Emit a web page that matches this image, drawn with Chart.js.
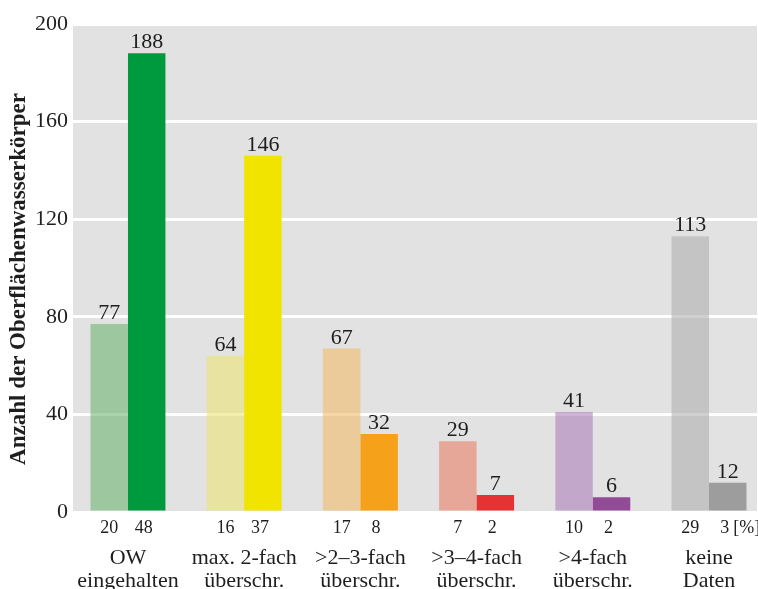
<!DOCTYPE html>
<html>
<head>
<meta charset="utf-8">
<script src="https://cdn.jsdelivr.net/npm/chart.js@4"></script>
<style>
  body { margin: 0; background: #fff; }
</style>
</head>
<body>
<canvas id="owChart" width="758" height="589"></canvas>
<script>
      const categories = [
        ["OW", "eingehalten"],
        ["max. 2-fach", "überschr."],
        [">2–3-fach", "überschr."],
        [">3–4-fach", "überschr."],
        [">4-fach", "überschr."],
        ["keine", "Daten"]
      ];
      // counts per class, light = first series, dark = second series
      const countsLight = [77, 64, 67, 29, 41, 113];
      const countsDark = [188, 146, 32, 7, 6, 12];
      // shares in percent printed under the bars
      const percentLight = [20, 16, 17, 7, 10, 29];
      const percentDark = [48, 37, 8, 2, 2, 3];
      const percentUnit = "[%]";
      const yTicks = [0, 40, 80, 120, 160, 200];
      const yTitle = "Anzahl der Oberflächenwasserkörper";

      const colorsLight = [
        "rgba(111,183,115,0.6)", "rgba(236,228,116,0.6)", "rgba(244,188,106,0.6)",
        "rgba(233,129,103,0.6)", "rgba(174,129,186,0.6)", "rgba(176,176,176,0.6)"
      ];
      const colorsDark = ["#009a3e", "#f0e400", "#f5a11a", "#e53233", "#924c97", "#9d9d9d"];

      const serif = "'Liberation Serif', 'Times New Roman', serif";
      const textColor = "#1e1e1e";

      const toPoints = (arr) => arr.map((v, i) => ({ x: i, y: v }));

      //grey plot background, value labels, percent row and axis title
      const decorations = {
        id: "decorations",
        beforeDraw(chart) {
          const a = chart.chartArea;
          const c = chart.ctx;
          c.save();
          c.fillStyle = "#e2e2e2";
          c.fillRect(a.left, a.top, a.right - a.left, a.bottom - a.top);
          c.restore();
        },
        afterDatasetsDraw(chart) {
          const c = chart.ctx;
          const a = chart.chartArea;
          c.save();
          c.fillStyle = textColor;
          c.textAlign = "center";
          c.textBaseline = "alphabetic";
          chart.data.datasets.forEach((ds, d) => {
            const meta = chart.getDatasetMeta(d);
            const shares = d === 0 ? percentLight : percentDark;
            meta.data.forEach((bar, i) => {
              c.font = "22px " + serif;
              c.fillText(String(ds.data[i].y), bar.x, bar.y - 5);
              c.font = "18px " + serif;
              const px = d === 0 ? bar.x : bar.x - 3;
              c.fillText(String(shares[i]), px, a.bottom + 21);
              if (d === 1 && i === shares.length - 1) {
                const w = c.measureText(String(shares[i])).width;
                c.textAlign = "left";
                c.fillText(percentUnit, px + w / 2 + 4, a.bottom + 21);
                c.textAlign = "center";
              }
            });
          });
          c.translate(19, 279);
          c.rotate(-Math.PI / 2);
          c.font = "bold 23px " + serif;
          c.textBaseline = "middle";
          c.fillText(yTitle, 0, 0);
          c.restore();
        }
      };

      const ctx = document.getElementById("owChart").getContext("2d");
      const chart = new Chart(ctx, {
        type: "bar",
        data: {
          datasets: [
            {
              data: toPoints(countsLight),
              backgroundColor: colorsLight,
              barPercentage: 1,
              categoryPercentage: 0.645
            },
            {
              data: toPoints(countsDark),
              backgroundColor: colorsDark,
              barPercentage: 1,
              categoryPercentage: 0.645
            }
          ]
        },
        options: {
          responsive: false,
          animation: false,
          devicePixelRatio: 1,
          layout: { padding: { top: 24, right: 1, left: 0, bottom: 0 } },
          plugins: {
            legend: { display: false },
            tooltip: { enabled: false }
          },
          scales: {
            x: {
              type: "linear",
              offset: false,
              min: -0.473,
              max: 5.413,
              grid: { display: false, drawTicks: false },
              border: { display: false },
              afterBuildTicks: (scale) => {
                scale.ticks = categories.map((c, i) => ({ value: i }));
              },
              afterFit: (scale) => {
                scale.height = 77;
                scale.paddingLeft = 0;
                scale.paddingRight = 0;
              },
              ticks: {
                autoSkip: false,
                maxRotation: 0,
                padding: 35,
                color: textColor,
                font: { family: serif, size: 22, lineHeight: "23px" },
                callback: (value) => categories[value]
              }
            },
            y: {
              min: 0,
              max: 200,
              afterBuildTicks: (scale) => {
                scale.ticks = yTicks.map(v => ({ value: v }));
              },
              afterFit: (scale) => { scale.width = 73; },
              grid: { color: "#ffffff", lineWidth: 3, drawTicks: false },
              border: { display: false },
              ticks: {
                padding: 5,
                color: textColor,
                font: { family: serif, size: 22 }
              }
            }
          }
        },
        plugins: [decorations]
      });
</script>
</body>
</html>
